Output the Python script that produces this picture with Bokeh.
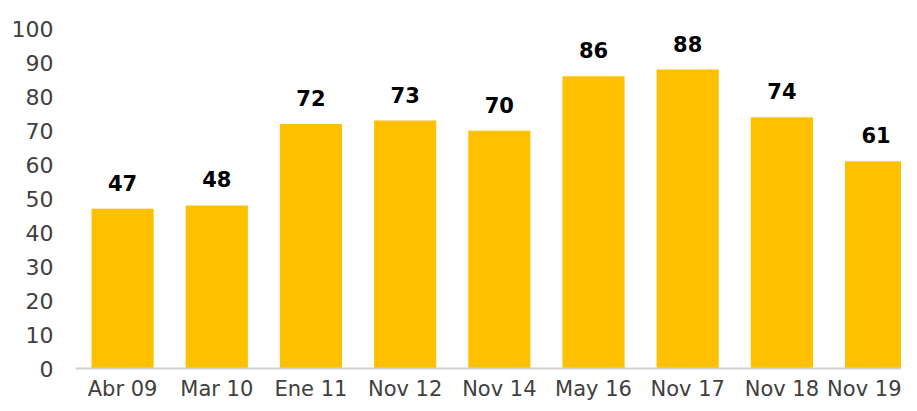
from bokeh.plotting import figure
from bokeh.models import ColumnDataSource, Range1d, FixedTicker
from bokeh.core.properties import value
from bokeh.embed import file_html
from bokeh.resources import INLINE

categories = ["Abr 09", "Mar 10", "Ene 11", "Nov 12", "Nov 14", "May 16", "Nov 17", "Nov 18", "Nov 19"]
values = [47, 48, 72, 73, 70, 86, 88, 74, 61]
y_ticks = [0, 10, 20, 30, 40, 50, 60, 70, 80, 90, 100]

FONT = "DejaVu Sans"
x = list(range(len(categories)))
src = ColumnDataSource(dict(x=x, top=values, label=[str(v) for v in values]))

p = figure(width=901, height=403, output_backend="svg", toolbar_location=None,
           x_range=Range1d(-0.5, 8.27), y_range=Range1d(0, 104.8),
           min_border_left=75, min_border_right=0, min_border_top=12, min_border_bottom=10)

p.vbar(x="x", top="top", width=0.66, source=src, fill_color="#FFC000", line_color=None)
p.text(x="x", y="top", text="label", source=src, text_align="center", text_baseline="bottom",
       y_offset=-18, text_font=value(FONT), text_font_style="bold", text_font_size="21px",
       text_color="#000000")

p.outline_line_color = None
p.xgrid.grid_line_color = None
p.ygrid.grid_line_color = None

p.yaxis.ticker = FixedTicker(ticks=y_ticks)
p.yaxis.axis_line_color = None
p.yaxis.major_tick_line_color = None
p.yaxis.minor_tick_line_color = None
p.yaxis.major_tick_out = 0
p.yaxis.major_tick_in = 0
p.yaxis.major_label_standoff = 22
p.yaxis.major_label_text_font = FONT
p.yaxis.major_label_text_font_size = "22px"
p.yaxis.major_label_text_color = "#404040"

p.xaxis.ticker = FixedTicker(ticks=x)
p.xaxis.major_label_overrides = {i: c for i, c in enumerate(categories)}
p.xaxis.axis_line_color = "#d0d0d0"
p.xaxis.axis_line_width = 2
p.xaxis.major_tick_line_color = None
p.xaxis.minor_tick_line_color = None
p.xaxis.major_tick_out = 0
p.xaxis.major_tick_in = 0
p.xaxis.major_label_standoff = 8
p.xaxis.major_label_text_line_height = 0.8
p.xaxis.major_label_text_font = FONT
p.xaxis.major_label_text_font_size = "21px"
p.xaxis.major_label_text_color = "#404040"

open("out.html", "w").write(file_html(p, INLINE))
